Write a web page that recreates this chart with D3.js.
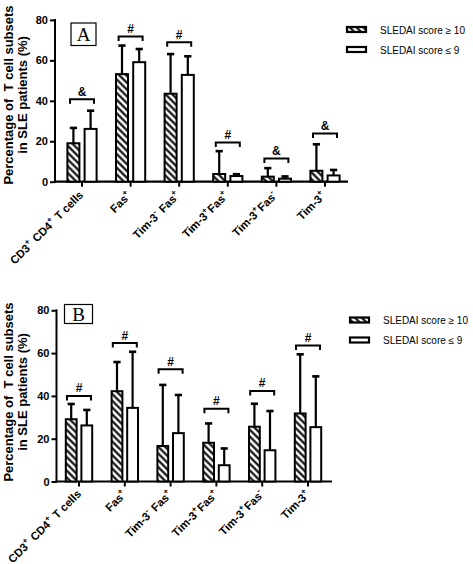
<!DOCTYPE html>
<html>
<head>
<meta charset="utf-8">
<script src="https://cdn.jsdelivr.net/npm/d3@7"></script>
<style>
  html, body { margin: 0; padding: 0; background: #fff; }
  svg { display: block; }
  text { font-family: "Liberation Sans", Arial, sans-serif; fill: #000; }
</style>
</head>
<body>
<svg id="chart" width="473" height="564"></svg>
<script>
// ---------- DATA ----------
const categories = ["CD3^+ CD4^+ T cells", "Fas^+", "Tim-3^- Fas^+", "Tim-3^+Fas^+", "Tim-3^+Fas^-", "Tim-3^+"];
const seriesNames = ["SLEDAI score \u2265 10", "SLEDAI score \u2264 9"];
const yTicks = [0, 20, 40, 60, 80];

// Panel A
const aHighMean = [19.0, 53.2, 43.5, 3.8, 2.5, 5.4];
const aHighSD   = [8.0, 14.5, 20.0, 11.7, 4.6, 13.5];
const aLowMean  = [26.1, 59.1, 52.8, 2.8, 1.5, 3.1];
const aLowSD    = [9.4, 6.9, 9.6, 1.3, 1.5, 3.1];
const aBracket  = [40.8, 71.8, 69.0, 19.4, 11.5, 23.8];
const aSymbols  = ["&", "#", "#", "#", "&", "&"];

// Panel B
const bHighMean = [29.1, 42.2, 16.6, 18.1, 25.6, 31.8];
const bHighSD   = [7.5, 14.0, 28.9, 9.4, 11.1, 28.0];
const bLowMean  = [26.2, 34.4, 22.6, 7.6, 14.6, 25.4];
const bLowSD    = [7.6, 26.6, 18.2, 8.2, 18.7, 24.1];
const bBracket  = [40.0, 64.7, 52.5, 34.0, 42.3, 63.5];
const bSymbols  = ["#", "#", "#", "#", "#", "#"];

// ---------- DRAW ----------
const svg = d3.select("#chart");
const defs = svg.append("defs");
const pat = defs.append("pattern")
  .attr("id", "hatch").attr("patternUnits", "userSpaceOnUse")
  .attr("width", 4.8).attr("height", 4.8)
  .attr("patternTransform", "rotate(45)");
pat.append("rect").attr("width", 4.8).attr("height", 4.8).attr("fill", "#fff");
pat.append("line").attr("x1", 0).attr("x2", 4.8).attr("y1", 2.4).attr("y2", 2.4)
  .attr("stroke", "#000").attr("stroke-width", 2.1);

function addLabel(textSel, label) {
  const parts = label.split(/(\^[+-])/).filter(s => s.length);
  parts.forEach(p => {
    if (p[0] === "^") {
      textSel.append("tspan").attr("font-size", "8px").attr("dy", -5)
        .text(p[1] === "-" ? "-" : "+");
      textSel.append("tspan").attr("dy", 5).text("\u200a");
    } else {
      textSel.append("tspan").text(p);
    }
  });
}

function drawPanel(cfg) {
  const g = svg.append("g");
  const x = d3.scaleBand().domain(categories).range(cfg.xRange);
  const y = d3.scaleLinear().domain([0, 80]).range(cfg.yRange);
  const y0 = y(0);

  // y axis
  const yAxis = d3.axisLeft(y).tickValues(yTicks).tickSize(5).tickPadding(2);
  const ya = g.append("g").attr("transform", `translate(${cfg.axisX},0)`).call(yAxis);
  ya.select(".domain").remove();
  ya.selectAll(".tick line").attr("stroke", "#000").attr("stroke-width", 2);
  ya.selectAll(".tick text").attr("font-size", "11px").attr("font-weight", "bold")
    .attr("font-family", "Liberation Sans, Arial, sans-serif").attr("fill", "#000");
  g.append("line").attr("x1", cfg.axisX).attr("x2", cfg.axisX)
    .attr("y1", y(80) - 1).attr("y2", y0 + 1).attr("stroke", "#000").attr("stroke-width", 2);

  // x axis
  g.append("line").attr("x1", cfg.axisX - 1).attr("x2", cfg.xEnd)
    .attr("y1", y0).attr("y2", y0).attr("stroke", "#000").attr("stroke-width", 2.2);
  const xAxis = d3.axisBottom(x).tickSize(5).tickFormat("");
  const xa = g.append("g").attr("transform", `translate(0,${y0})`).call(xAxis);
  xa.select(".domain").remove();
  xa.selectAll(".tick line").attr("stroke", "#000").attr("stroke-width", 2);

  // x labels
  categories.forEach(c => {
    const cx = x(c) + x.bandwidth() / 2;
    const t = g.append("text")
      .attr("transform", `translate(${cx + cfg.lblDx},${y0 + cfg.lblDy}) rotate(-45)`)
      .attr("text-anchor", "end").attr("font-size", "11.3px").attr("font-weight", "bold");
    addLabel(t, c);
  });

  // bars
  const series = [
    { mean: cfg.highMean, sd: cfg.highSD, off: -cfg.off, fill: "url(#hatch)" },
    { mean: cfg.lowMean, sd: cfg.lowSD, off: cfg.off, fill: "#fff" }
  ];
  series.forEach(s => {
    categories.forEach((c, i) => {
      const cx = x(c) + x.bandwidth() / 2 + s.off;
      const top = y(s.mean[i]);
      const errTop = y(s.mean[i] + s.sd[i]);
      g.append("line").attr("x1", cx).attr("x2", cx).attr("y1", top).attr("y2", errTop)
        .attr("stroke", "#000").attr("stroke-width", 2.2);
      g.append("line").attr("x1", cx - 3.6).attr("x2", cx + 3.6).attr("y1", errTop + 0.8).attr("y2", errTop + 0.8)
        .attr("stroke", "#000").attr("stroke-width", 2.6);
      g.append("rect").attr("x", cx - cfg.barW / 2).attr("y", top)
        .attr("width", cfg.barW).attr("height", y0 - top)
        .attr("fill", s.fill).attr("stroke", "#000").attr("stroke-width", 2);
    });
  });

  // brackets
  categories.forEach((c, i) => {
    const cx = x(c) + x.bandwidth() / 2;
    const by = y(cfg.bracket[i]);
    g.append("path")
      .attr("d", `M${cx - cfg.brW},${by + 4.5}V${by}H${cx + cfg.brW}V${by + 4.5}`)
      .attr("fill", "none").attr("stroke", "#000").attr("stroke-width", 2);
    g.append("text").attr("x", cx).attr("y", by - 3.5).attr("text-anchor", "middle")
      .attr("font-size", "12px").attr("font-weight", "bold").text(cfg.symbols[i]);
  });

  // y title
  g.append("text").attr("transform", `translate(13,${cfg.titleY}) rotate(-90)`)
    .attr("text-anchor", "middle").attr("font-size", "13px").attr("font-weight", "bold")
    .attr("xml:space", "preserve").text("Percentage of  T cell subsets");
  g.append("text").attr("transform", `translate(27,${cfg.titleY}) rotate(-90)`)
    .attr("text-anchor", "middle").attr("font-size", "13px").attr("font-weight", "bold")
    .text("in SLE patients (%)");

  // panel label box
  g.append("rect").attr("x", cfg.box[0]).attr("y", cfg.box[1]).attr("width", cfg.box[2]).attr("height", cfg.box[3])
    .attr("fill", "#fff").attr("stroke", "#000").attr("stroke-width", 1.2);
  g.append("text").attr("x", cfg.box[0] + cfg.box[2] / 2).attr("y", cfg.box[1] + cfg.box[3] / 2 + 6.5)
    .attr("text-anchor", "middle")
    .style("font-family", "'Liberation Serif', 'Times New Roman', serif")
    .attr("font-size", "19px").text(cfg.panel);

  // legend
  seriesNames.forEach((n, i) => {
    const ly = cfg.legY + i * 20;
    g.append("rect").attr("x", cfg.legX).attr("y", ly - 3).attr("width", 19).attr("height", 5)
      .attr("fill", i === 0 ? "url(#hatch)" : "#fff").attr("stroke", "#000").attr("stroke-width", 2.2);
    g.append("text").attr("x", cfg.legX + 33).attr("y", ly + 3.8).attr("font-size", "10px").text(n);
  });
}

drawPanel({
  panel: "A", xRange: [57.7, 349.3], yRange: [181.7, 19.9], axisX: 55, xEnd: 348,
  highMean: aHighMean, highSD: aHighSD, lowMean: aLowMean, lowSD: aLowSD,
  bracket: aBracket, symbols: aSymbols, off: 8.6, barW: 12, brW: 12,
  lblDx: 2, lblDy: 14, titleY: 95, box: [71, 23, 25, 22.5], legX: 347, legY: 30
});
drawPanel({
  panel: "B", xRange: [56.1, 330.9], yRange: [481.5, 310.3], axisX: 56.5, xEnd: 332,
  highMean: bHighMean, highSD: bHighSD, lowMean: bLowMean, lowSD: bLowSD,
  bracket: bBracket, symbols: bSymbols, off: 7.8, barW: 10.8, brW: 12,
  lblDx: 3, lblDy: 13, titleY: 392, box: [64.5, 304.5, 28, 19], legX: 350, legY: 320.5
});
</script>
</body>
</html>
